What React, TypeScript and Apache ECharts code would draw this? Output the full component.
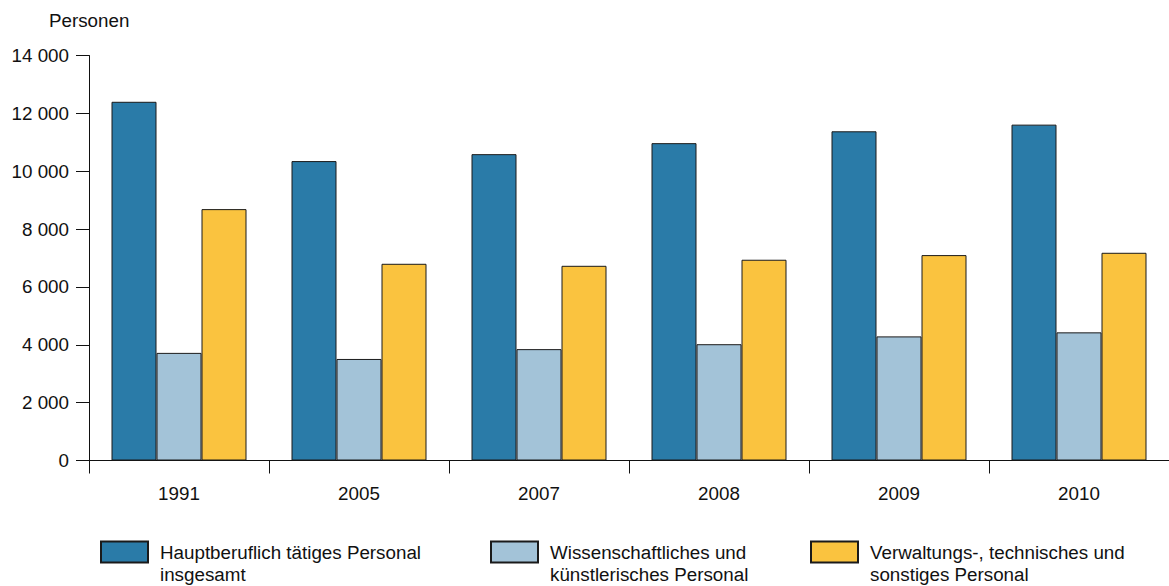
import React, { useEffect, useRef } from "react";
import * as echarts from "echarts";

const years = ["1991", "2005", "2007", "2008", "2009", "2010"];
const totalStaff = [12400, 10350, 10590, 10970, 11380, 11610];
const scientificStaff = [3720, 3510, 3850, 4020, 4290, 4430];
const adminStaff = [8690, 6800, 6730, 6940, 7100, 7180];
const seriesNames = [
  "Hauptberuflich tätiges Personal\ninsgesamt",
  "Wissenschaftliches und\nkünstlerisches Personal",
  "Verwaltungs-, technisches und\nsonstiges Personal",
];
const yTicks = { min: 0, max: 14000, interval: 2000 };

const FONT = "'Liberation Sans', Arial, Helvetica, sans-serif";
const FS = 18.8;

function fmt(v: number) {
  return String(v).replace(/\B(?=(\d{3})+(?!\d))/g, " ");
}

export default function App() {
  const ref = useRef<HTMLDivElement>(null);
  useEffect(() => {
    if (!ref.current) return;
    const chart = echarts.init(ref.current, undefined, { renderer: "svg" });
    const colors = ["#2A7BA8", "#A3C3D8", "#FAC33F"];
    const data = [totalStaff, scientificStaff, adminStaff];
    const legendLefts = [100, 490, 810];
    chart.setOption({
      animation: false,
      textStyle: { fontFamily: FONT },
      title: {
        text: "Personen",
        left: 49,
        top: 11,
        padding: 0,
        textStyle: { fontFamily: FONT, fontSize: FS, fontWeight: "normal", color: "#111" },
      },
      grid: { left: 89, right: 0, top: 55.5, bottom: 125.5, containLabel: false },
      legend: seriesNames.map((n, i) => ({
        data: [{ name: n, icon: "rect" }],
        left: legendLefts[i],
        top: 519,
        padding: 0,
        itemWidth: 47,
        itemHeight: 21,
        itemGap: 12,
        selectedMode: false,
        formatter: (name: string) => "\n" + name,
        textStyle: {
          fontFamily: FONT,
          fontSize: FS,
          color: "#111",
          lineHeight: 22,
          padding: [0, 0, 0, 7],
        },
      })),
      xAxis: {
        type: "category",
        data: years,
        axisLine: { show: true, lineStyle: { color: "#111", width: 1 } },
        axisTick: { show: true, length: 13, interval: 0, lineStyle: { color: "#111" } },
        axisLabel: { margin: 23, fontSize: FS, color: "#111", fontFamily: FONT },
        splitLine: { show: false },
      },
      yAxis: {
        type: "value",
        min: yTicks.min,
        max: yTicks.max,
        interval: yTicks.interval,
        axisLine: { show: true, lineStyle: { color: "#111", width: 1 } },
        axisTick: { show: true, length: 13, lineStyle: { color: "#111" } },
        axisLabel: {
          margin: 20,
          fontSize: FS,
          color: "#111",
          fontFamily: FONT,
          formatter: (v: number) => fmt(v),
        },
        splitLine: { show: false },
      },
      series: seriesNames.map((n, i) => ({
        name: n,
        type: "bar",
        data: data[i],
        barWidth: 45,
        barGap: "0%",
        itemStyle: { color: colors[i], borderColor: "#1a1a1a", borderWidth: 1 },
      })),
    });
    return () => chart.dispose();
  }, []);
  return (
    <div
      ref={ref}
      style={{ position: "fixed", left: 0, top: 0, width: 1169, height: 586, background: "#fff" }}
    />
  );
}
